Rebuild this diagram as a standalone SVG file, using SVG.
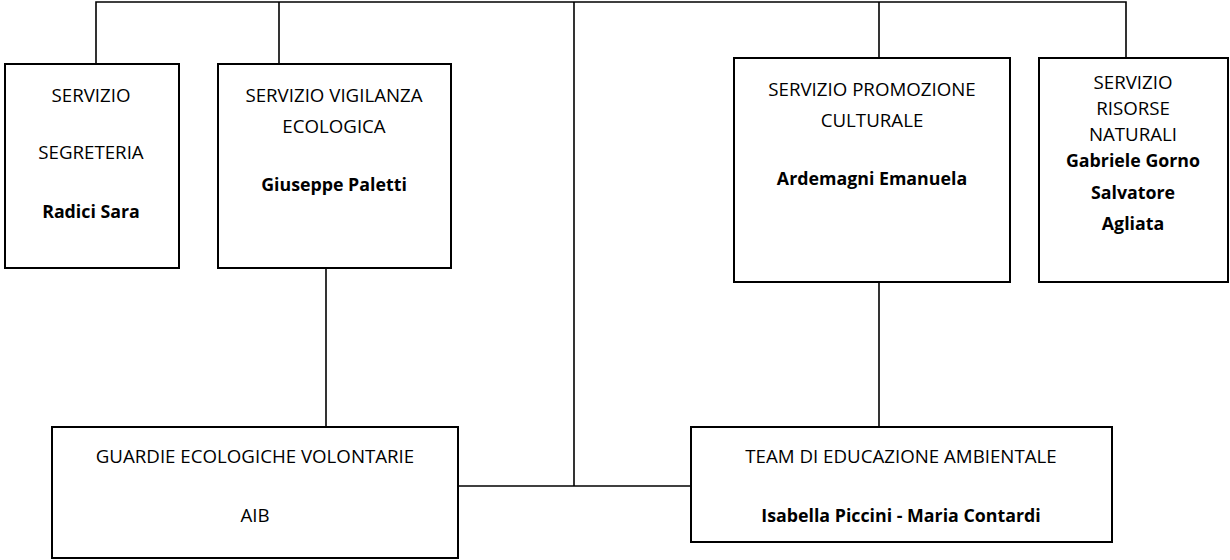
<svg xmlns="http://www.w3.org/2000/svg" width="1230" height="560" viewBox="0 0 1230 560">
<style>
.box{fill:#fff;stroke:#000;stroke-width:2}
.con{fill:none;stroke:#000;stroke-width:1.6}
text{font-family:"Open Sans","Liberation Sans",sans-serif;font-size:18.7px;fill:#000;text-anchor:middle}
.b{font-weight:bold;font-size:17.8px}
</style>
<rect width="1230" height="560" fill="#fff"/>
<g id="connectors">
<polyline class="con" points="96,64 96,2 1126,2 1126,58"/>
<line class="con" x1="279" y1="2" x2="279" y2="64"/>
<line class="con" x1="574" y1="2" x2="574" y2="486"/>
<line class="con" x1="879" y1="2" x2="879" y2="58"/>
<line class="con" x1="326" y1="268" x2="326" y2="427"/>
<line class="con" x1="879" y1="282" x2="879" y2="427"/>
<line class="con" x1="458" y1="486" x2="691" y2="486"/>
</g>
<g id="segreteria">
<rect class="box" x="5" y="64" width="174" height="204"/>
<text x="91" y="102">SERVIZIO</text>
<text x="91" y="159">SEGRETERIA</text>
<text x="91" y="218" class="b">Radici Sara</text>
</g>
<g id="vigilanza">
<rect class="box" x="218" y="64" width="233" height="204"/>
<text x="334" y="102">SERVIZIO VIGILANZA</text>
<text x="334" y="133">ECOLOGICA</text>
<text x="334" y="191" class="b">Giuseppe Paletti</text>
</g>
<g id="promozione">
<rect class="box" x="734" y="58" width="276" height="224"/>
<text x="872" y="96">SERVIZIO PROMOZIONE</text>
<text x="872" y="127">CULTURALE</text>
<text x="872" y="185" class="b">Ardemagni Emanuela</text>
</g>
<g id="risorse">
<rect class="box" x="1039" y="58" width="189" height="224"/>
<text x="1133" y="89">SERVIZIO</text>
<text x="1133" y="115">RISORSE</text>
<text x="1133" y="141">NATURALI</text>
<text x="1133" y="167" class="b">Gabriele Gorno</text>
<text x="1133" y="199" class="b">Salvatore</text>
<text x="1133" y="230" class="b">Agliata</text>
</g>
<g id="guardie">
<rect class="box" x="52" y="427" width="406" height="131"/>
<text x="255" y="463">GUARDIE ECOLOGICHE VOLONTARIE</text>
<text x="255" y="522">AIB</text>
</g>
<g id="team">
<rect class="box" x="691" y="427" width="421" height="115"/>
<text x="901" y="463">TEAM DI EDUCAZIONE AMBIENTALE</text>
<text x="901" y="522" class="b">Isabella Piccini - Maria Contardi</text>
</g>
</svg>
